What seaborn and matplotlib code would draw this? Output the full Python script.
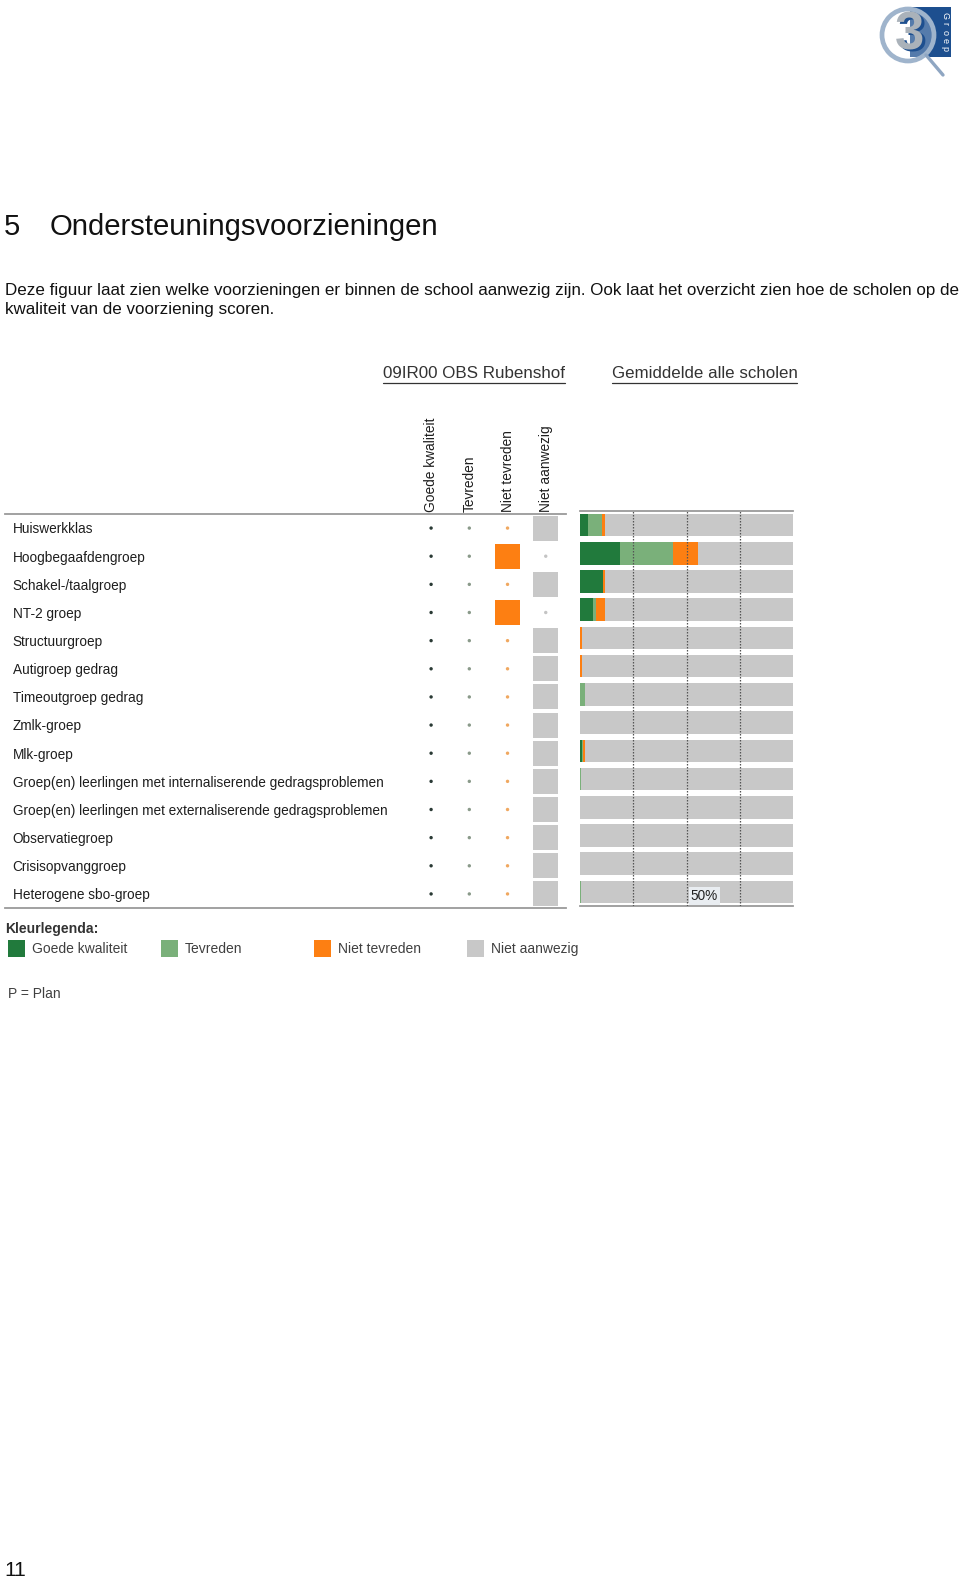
import numpy as np
import pandas as pd
import matplotlib
matplotlib.use("Agg")
import matplotlib.pyplot as plt
import seaborn as sns
from matplotlib.transforms import blended_transform_factory as btf
from matplotlib.patches import Rectangle, Circle
from matplotlib.lines import Line2D

# ---------------- data ----------------
categories = [
    "Huiswerkklas",
    "Hoogbegaafdengroep",
    "Schakel-/taalgroep",
    "NT-2 groep",
    "Structuurgroep",
    "Autigroep gedrag",
    "Timeoutgroep gedrag",
    "Zmlk-groep",
    "Mlk-groep",
    "Groep(en) leerlingen met internaliserende gedragsproblemen",
    "Groep(en) leerlingen met externaliserende gedragsproblemen",
    "Observatiegroep",
    "Crisisopvanggroep",
    "Heterogene sbo-groep",
]
columns = ["Goede kwaliteit", "Tevreden", "Niet tevreden", "Niet aanwezig"]
school_status = [
    "Niet aanwezig", "Niet tevreden", "Niet aanwezig", "Niet tevreden",
    "Niet aanwezig", "Niet aanwezig", "Niet aanwezig", "Niet aanwezig",
    "Niet aanwezig", "Niet aanwezig", "Niet aanwezig", "Niet aanwezig",
    "Niet aanwezig", "Niet aanwezig",
]
# average of all schools (% of schools)
avg_goede = [3.6, 18.8, 11.0, 6.3, 0.0, 0.0, 0.0, 0.0, 1.1, 0.0, 0.0, 0.0, 0.0, 0.0]
avg_tevreden = [6.7, 25.0, 0.0, 1.1, 0.0, 0.0, 2.2, 0.0, 0.5, 0.6, 0.0, 0.0, 0.0, 0.6]
avg_niet_tevreden = [1.3, 11.5, 0.6, 4.2, 0.8, 0.8, 0.0, 0.0, 0.8, 0.0, 0.0, 0.0, 0.0, 0.0]
full_scale = 100
grid_ticks = [25, 50, 75]
mid_label = "50%"

title_num = "5"
title_text = "Ondersteuningsvoorzieningen"
body_lines = [
    "Deze figuur laat zien welke voorzieningen er binnen de school aanwezig zijn. Ook laat het overzicht zien hoe de scholen op de",
    "kwaliteit van de voorziening scoren.",
]
school_title = "09IR00 OBS Rubenshof"
avg_title = "Gemiddelde alle scholen"
legend_title = "Kleurlegenda:"
plan_note = "P = Plan"
page_number = "11"

# ---------------- style ----------------
C_GOEDE = "#217a3c"
C_TEVREDEN = "#7ab07a"
C_NIET = "#fd7f12"
C_AFWEZIG = "#c8c8c8"
square_colors = {"Goede kwaliteit": C_GOEDE, "Tevreden": C_TEVREDEN,
                 "Niet tevreden": C_NIET, "Niet aanwezig": C_AFWEZIG}
dot_colors = {"Goede kwaliteit": "#2a3a35", "Tevreden": "#8a9a8a",
              "Niet tevreden": "#f0a860", "Niet aanwezig": "#c4c4c4"}

sns.set_theme(style="white")
plt.rcParams["font.family"] = ["Liberation Sans", "DejaVu Sans"]

W, H = 960, 1580
fig = plt.figure(figsize=(W / 100, H / 100), dpi=100)
fig.patch.set_facecolor("white")


def fx(px):
    return px / W


def fy(py):
    return 1 - py / H


def fit(t, width_px):
    fig.canvas.draw()
    r = fig.canvas.get_renderer()
    w = t.get_window_extent(r).width
    t.set_fontsize(t.get_fontsize() * width_px / w)


# ---------------- header texts ----------------
fig.text(fx(4), fy(227), title_num, fontsize=21, va="center", ha="left", color="#111")
t_title = fig.text(fx(49.4), fy(227), title_text, fontsize=21, va="center", ha="left", color="#111")
fit(t_title, 389)
b1 = fig.text(fx(5), fy(290), body_lines[0], fontsize=12, va="center", ha="left", color="#111")
fit(b1, 950)
fig.text(fx(5), fy(309.5), body_lines[1], fontsize=b1.get_fontsize(), va="center", ha="left", color="#111")

st1 = fig.text(fx(383.3), fy(374), school_title, fontsize=11, va="center", ha="left", color="#333")
fit(st1, 181.7)
st2 = fig.text(fx(612.3), fy(374), avg_title, fontsize=11, va="center", ha="left", color="#333")
fit(st2, 184.4)
fig.add_artist(Line2D([fx(383.3), fx(565)], [fy(382.5), fy(382.5)], color="#333", lw=0.9))
fig.add_artist(Line2D([fx(612.3), fx(796.7)], [fy(382.5), fy(382.5)], color="#333", lw=0.9))

# ---------------- left panel (school) ----------------
axL = fig.add_axes([fx(5), fy(908), (566 - 5) / W, (908 - 514) / H])
rows = []
for i, cat in enumerate(categories):
    for j, col in enumerate(columns):
        rows.append(dict(row=i, col=j, column=col, selected=(school_status[i] == col)))
df = pd.DataFrame(rows)
sns.scatterplot(data=df[df.selected], x="col", y="row", hue="column",
                palette=square_colors, marker="s", s=324, linewidth=0,
                legend=False, ax=axL)
sns.scatterplot(data=df[~df.selected], x="col", y="row", hue="column",
                palette=dot_colors, marker="o", s=6, linewidth=0,
                legend=False, ax=axL)
axL.set_xlim(-11.15, 3.53)
axL.set_ylim(len(categories) - 0.5, -0.5)
axL.set_xticks([])
axL.set_yticks([])
axL.set_xlabel("")
axL.set_ylabel("")
for s in ["left", "right"]:
    axL.spines[s].set_visible(False)
for s in ["top", "bottom"]:
    axL.spines[s].set_color("#9a9a9a")
    axL.spines[s].set_linewidth(1.3)
trL = btf(axL.transAxes, axL.transData)
for i, cat in enumerate(categories):
    axL.text((12.7 - 5) / 561, i + 0.05, cat, transform=trL, ha="left", va="center",
             fontsize=9.8, color="#1e1e1e")
trH = btf(axL.transData, axL.transAxes)
for j, col in enumerate(columns):
    axL.text(j, 1.006, col, transform=trH, rotation=90, ha="center", va="bottom",
             fontsize=9.9, color="#1e1e1e")

# ---------------- right panel (average) ----------------
axR = fig.add_axes([fx(580), fy(906), 213 / W, (906 - 511) / H])
cum1 = np.array(avg_goede)
cum2 = cum1 + np.array(avg_tevreden)
cum3 = cum2 + np.array(avg_niet_tevreden)
for vals, c in [([full_scale] * len(categories), C_AFWEZIG), (cum3, C_NIET),
                (cum2, C_TEVREDEN), (cum1, C_GOEDE)]:
    sns.barplot(x=list(vals), y=categories, orient="h", color=c, saturation=1,
                width=0.8, linewidth=0, ax=axR)
axR.set_xlim(0, full_scale)
axR.set_ylim(len(categories) - 0.5, -0.5)
axR.set_xticks(grid_ticks)
axR.set_yticks([])
axR.set_xlabel("")
axR.set_ylabel("")
axR.tick_params(bottom=False, left=False, labelbottom=False, labelleft=False)
axR.set_axisbelow(False)
axR.xaxis.grid(True, color="#555555", linestyle=(0, (1.2, 1.2)), linewidth=0.9)
axR.yaxis.grid(False)
for s in ["left", "right"]:
    axR.spines[s].set_visible(False)
for s in ["top", "bottom"]:
    axR.spines[s].set_color("#9a9a9a")
    axR.spines[s].set_linewidth(1.3)
axR.text(grid_ticks[1] + 2.0, len(categories) - 1 + 0.15, mid_label, ha="left", va="center",
         fontsize=9.8, color="#222",
         bbox=dict(facecolor="#e9edf1", edgecolor="none", pad=1.2))

# ---------------- colour legend ----------------
fig.text(fx(5), fy(929), legend_title, fontsize=10.1, fontweight="bold", va="center",
         ha="left", color="#333")
leg_x = [8, 161, 314, 467]
for x0, col in zip(leg_x, columns):
    fig.add_artist(Rectangle((fx(x0), fy(957)), 17 / W, 17 / H,
                             facecolor=square_colors[col], edgecolor="none",
                             transform=fig.transFigure))
    fig.text(fx(x0 + 24), fy(949), col, fontsize=10.0, va="center", ha="left",
             color="#404040")
fig.text(fx(8), fy(994), plan_note, fontsize=10.0, va="center", ha="left", color="#404040")

# ---------------- page number ----------------
fig.text(fx(4), fy(1571), page_number, fontsize=15, va="center", ha="left", color="#111")

# ---------------- logo ----------------
axLogo = fig.add_axes([fx(860), fy(90), 100 / W, 90 / H])
axLogo.set_xlim(860, 960)
axLogo.set_ylim(90, 0)
axLogo.axis("off")
axLogo.add_patch(Rectangle((910, 7), 41, 50, facecolor="#1d4f8f", edgecolor="none"))
axLogo.plot([926, 943], [55, 75], color="#8fa6c2", lw=2.4, solid_capstyle="round")
axLogo.add_patch(Circle((908, 35), 27, facecolor="white", edgecolor="none", alpha=0.25))
axLogo.add_patch(Circle((908, 35), 26, facecolor="none", edgecolor="#9fb4cc", lw=3.4))
axLogo.text(912, 37, "3", fontsize=38, fontweight="bold", ha="center", va="center",
            color="#1d4f8f")
axLogo.text(909, 36, "3", fontsize=38, fontweight="bold", ha="center", va="center",
            color="#aab2ba")
for k, ch in enumerate("Groep"):
    axLogo.text(945, 15 + k * 8.5, ch, fontsize=6.5, rotation=-90, ha="center", va="center",
                color="white")

fig.savefig("out.png", dpi=100, facecolor="white")
